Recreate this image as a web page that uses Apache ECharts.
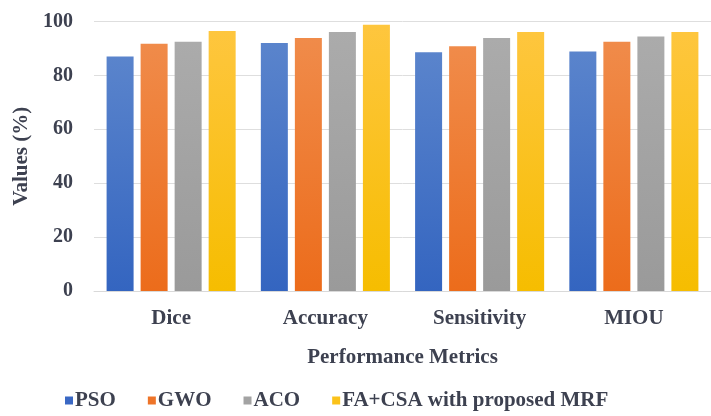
<!DOCTYPE html>
<html>
<head>
<meta charset="utf-8">
<script src="https://cdn.jsdelivr.net/npm/echarts@6/dist/echarts.min.js"></script>
<style>
  html, body { margin: 0; padding: 0; background: #ffffff; }
  #chart { width: 711px; height: 416px; }
</style>
</head>
<body>
<div id="chart"></div>
<script>
// Metrics on the x axis
const categories = ['Dice', 'Accuracy', 'Sensitivity', 'MIOU'];

// Scores (%) per method
const psoValues = [87, 92, 88.6, 88.9];
const gwoValues = [91.7, 93.9, 90.8, 92.5];
const acoValues = [92.5, 96.1, 93.9, 94.4];
const faCsaValues = [96.5, 98.8, 96.1, 96.1];

const seriesNames = ['PSO', 'GWO', 'ACO', 'FA+CSA with proposed MRF'];
const yTicks = [0, 20, 40, 60, 80, 100];

const textColor = '#3d4150';
const fontFamily = '"Liberation Serif", "Times New Roman", serif';

function grad(top, bottom) {
  return new echarts.graphic.LinearGradient(0, 0, 0, 1, [
    { offset: 0, color: top },
    { offset: 1, color: bottom }
  ]);
}

const fills = [
  grad('#5a84cc', '#3465c0'),
  grad('#f08b4a', '#ec6c1b'),
  grad('#ababab', '#9a9a9a'),
  grad('#fec63e', '#f6bd00')
];
const legendColors = ['#3a68c4', '#ee7428', '#a3a3a3', '#fbc21a'];

const data = [psoValues, gwoValues, acoValues, faCsaValues];

const chart = echarts.init(document.getElementById('chart'), null, { renderer: 'canvas' });

chart.setOption({
  animation: false,
  backgroundColor: '#ffffff',
  grid: { left: 94, top: 21.5, width: 626, bottom: 125, containLabel: false },
  legend: {
    left: 60,
    bottom: 0,
    itemWidth: 8,
    itemHeight: 8,
    itemGap: 32,
    icon: 'rect',
    textStyle: { fontFamily, fontWeight: 'bold', fontSize: 21, color: textColor, padding: [0, 0, 0, -3] },
    data: seriesNames.map((n, i) => ({ name: n, itemStyle: { color: legendColors[i] } }))
  },
  xAxis: {
    type: 'category',
    data: categories,
    name: 'Performance Metrics',
    nameLocation: 'middle',
    nameGap: 56,
    nameTextStyle: { fontFamily, fontWeight: 'bold', fontSize: 21, color: textColor, verticalAlign: 'top' },
    axisLine: { show: true, lineStyle: { color: '#d9d9d9', width: 1 } },
    axisTick: { show: false },
    axisLabel: { fontFamily, fontWeight: 'bold', fontSize: 21, color: textColor, margin: 17 }
  },
  yAxis: {
    type: 'value',
    min: 0,
    max: 100,
    interval: 20,
    name: 'Values (%)',
    nameLocation: 'middle',
    nameGap: 60,
    nameTextStyle: { fontFamily, fontWeight: 'bold', fontSize: 21, color: textColor },
    axisLine: { show: false },
    axisTick: { show: false },
    axisLabel: {
      fontFamily, fontWeight: 'bold', fontSize: 20, color: textColor, margin: 21,
      formatter: v => (yTicks.includes(v) ? String(v) : '')
    },
    splitLine: { show: true, lineStyle: { color: '#dedede', width: 1 } }
  },
  series: data.map((vals, i) => ({
    name: seriesNames[i],
    type: 'bar',
    data: vals,
    barWidth: 27,
    barGap: '26%',
    itemStyle: { color: fills[i] }
  }))
});
</script>
</body>
</html>
